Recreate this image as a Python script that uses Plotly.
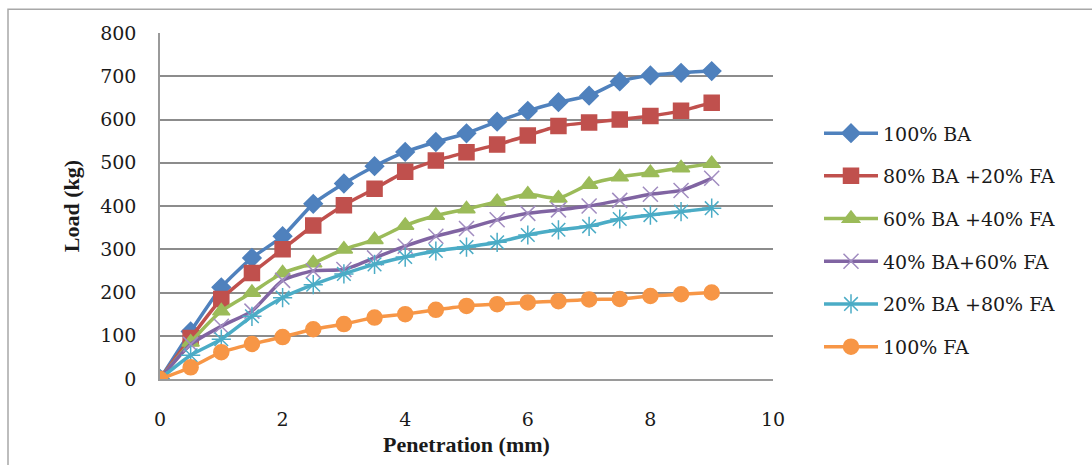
import plotly.graph_objects as go

penetration = [0, 0.5, 1, 1.5, 2, 2.5, 3, 3.5, 4, 4.5, 5, 5.5, 6, 6.5, 7, 7.5, 8, 8.5, 9]
ba100 = [0, 110, 212, 280, 330, 405, 452, 492, 525, 548, 568, 595, 620, 640, 655, 688, 702, 708, 712]
ba80_fa20 = [0, 95, 185, 245, 300, 355, 402, 440, 479, 505, 524, 542, 563, 585, 593, 600, 608, 620, 639]
ba60_fa40 = [0, 85, 157, 200, 245, 268, 300, 322, 355, 378, 393, 410, 427, 418, 450, 467, 477, 488, 498]
ba40_fa60 = [0, 80, 122, 157, 228, 250, 253, 280, 307, 330, 348, 368, 383, 391, 400, 413, 427, 436, 464]
ba20_fa80 = [0, 55, 92, 145, 188, 218, 243, 265, 282, 296, 305, 316, 333, 345, 353, 370, 379, 387, 395]
fa100 = [0, 27, 62, 81, 97, 115, 127, 142, 150, 160, 169, 173, 177, 180, 184, 185, 192, 196, 200]

names = ["100% BA", "80% BA +20% FA", "60% BA +40% FA", "40% BA+60% FA", "20% BA +80% FA", "100% FA"]
series = [ba100, ba80_fa20, ba60_fa40, ba40_fa60, ba20_fa80, fa100]
colors = ["#4F81BD", "#C0504D", "#9BBB59", "#8064A2", "#4BACC6", "#F79646"]
symbols = ["diamond", "square", "triangle-up", "x-thin-open", "asterisk-open", "circle"]
sizes = [14, 15, 15, 15, 16, 15]
marker_colors = ["#4F81BD", "#C0504D", "#9BBB59", "#A18CC0", "#4BACC6", "#F79646"]

fig = go.Figure()
for i, (nm, ys) in enumerate(zip(names, series)):
    fig.add_trace(go.Scatter(
        x=penetration, y=ys, name=nm, mode="lines+markers",
        line=dict(color=colors[i], width=3.5, shape="spline", smoothing=0.6),
        marker=dict(symbol=symbols[i], size=sizes[i], color=marker_colors[i],
                    line=dict(color=marker_colors[i], width=1.5)),
        legendgroup=nm,
    ))

L, R, T, B = 160, 319, 33, 83
W, H = 1092, 465
pw, ph = W - L - R, H - T - B

fig.update_layout(
    width=W, height=H,
    margin=dict(l=L, r=R, t=T, b=B),
    paper_bgcolor="white", plot_bgcolor="white",
    font=dict(family="DejaVu Serif", size=19, color="#1a1a1a"),
    showlegend=True,
    legend=dict(
        x=(819 - L) / pw, xanchor="left",
        y=(H - B - 115) / ph, yanchor="top",
        traceorder="grouped", tracegroupgap=15, itemwidth=54,
        font=dict(family="DejaVu Serif", size=19, color="#1a1a1a"),
        bgcolor="rgba(0,0,0,0)",
    ),
    xaxis=dict(
        range=[0, 10], dtick=2, showgrid=False, zeroline=False,
        showline=True, linecolor="#9a9a9a", linewidth=1.5,
        ticks="", ticklabelstandoff=22,
        title=dict(text="<b>Penetration (mm)</b>", standoff=8,
                   font=dict(family="Liberation Serif", size=22, color="#1a1a1a")),
    ),
    yaxis=dict(
        range=[0, 800], dtick=100, showgrid=True, gridcolor="#8c8c8c", gridwidth=1.5,
        zeroline=False, showline=True, linecolor="#9a9a9a", linewidth=1.5,
        ticks="", ticklabelstandoff=18,
        title=dict(text="<b>Load (kg)</b>", standoff=14,
                   font=dict(family="Liberation Serif", size=22, color="#1a1a1a")),
    ),
)

# outer chart-area border
fig.add_shape(type="rect", xref="paper", yref="paper",
              x0=(8 - L) / pw, x1=(W + 5 - L) / pw,
              y0=(H - B - (H + 5)) / ph, y1=(H - B - 9) / ph,
              line=dict(color="#a8a8a8", width=1.5), layer="below")

fig.write_html("out.html")
